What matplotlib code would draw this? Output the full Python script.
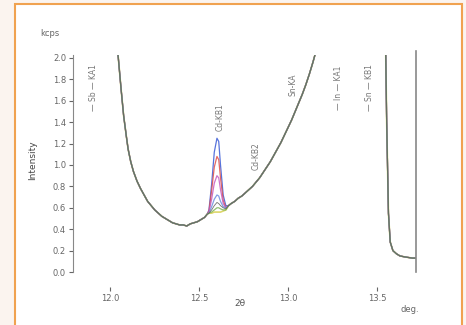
import matplotlib
matplotlib.use("Agg")
import matplotlib.pyplot as plt
from matplotlib.patches import Rectangle

# 2theta (deg) and shared background intensity (kcps)
two_theta_left = [12.03, 12.045, 12.06, 12.075, 12.09, 12.10, 12.115, 12.13, 12.15, 12.17,
                  12.19, 12.21, 12.23, 12.25, 12.27, 12.29, 12.31, 12.33, 12.35, 12.37,
                  12.39, 12.41, 12.43, 12.45, 12.47, 12.49, 12.51, 12.53, 12.545]
bg_left = [2.25, 2.00, 1.72, 1.46, 1.27, 1.15, 1.03, 0.94, 0.85, 0.78,
           0.72, 0.66, 0.62, 0.58, 0.55, 0.52, 0.50, 0.48, 0.46, 0.45,
           0.44, 0.44, 0.43, 0.45, 0.46, 0.47, 0.49, 0.51, 0.54]

two_theta_peak = [12.555, 12.57, 12.585, 12.6, 12.61, 12.62, 12.635, 12.65]

two_theta_right = [12.665, 12.68, 12.70, 12.72, 12.74, 12.76, 12.78, 12.80, 12.82, 12.84,
                   12.86, 12.88, 12.90, 12.92, 12.94, 12.96, 12.98, 13.00, 13.02, 13.04,
                   13.06, 13.08, 13.10, 13.12, 13.14, 13.16, 13.20, 13.30, 13.45, 13.545,
                   13.555, 13.565, 13.575, 13.59, 13.61, 13.63, 13.66, 13.70, 13.72]
bg_right = [0.62, 0.64, 0.66, 0.69, 0.71, 0.74, 0.77, 0.80, 0.84, 0.88,
            0.93, 0.98, 1.03, 1.09, 1.15, 1.21, 1.28, 1.35, 1.42, 1.50,
            1.58, 1.66, 1.75, 1.85, 1.96, 2.08, 2.35, 2.9, 3.2, 2.6,
            1.40, 0.55, 0.28, 0.20, 0.17, 0.15, 0.14, 0.13, 0.13]

# peak region per sample
peak_blue = [0.58, 0.82, 1.12, 1.25, 1.22, 1.00, 0.72, 0.62]
peak_red = [0.57, 0.76, 0.98, 1.08, 1.05, 0.88, 0.67, 0.60]
peak_magenta = [0.56, 0.68, 0.83, 0.90, 0.88, 0.77, 0.64, 0.60]
peak_lightblue = [0.55, 0.61, 0.68, 0.72, 0.71, 0.66, 0.61, 0.60]
peak_gray = [0.55, 0.58, 0.62, 0.65, 0.64, 0.62, 0.60, 0.59]
peak_green = [0.55, 0.56, 0.58, 0.60, 0.60, 0.59, 0.58, 0.58]
peak_yellow = [0.55, 0.55, 0.56, 0.56, 0.56, 0.56, 0.57, 0.58]

series = [
    (peak_yellow, "#d8d050", 1.2),
    (peak_blue, "#3a5bd6", 0.9),
    (peak_red, "#e0504a", 0.9),
    (peak_magenta, "#c45bc0", 0.9),
    (peak_lightblue, "#6f8fe0", 0.9),
    (peak_green, "#7db25a", 0.9),
    (peak_gray, "#5a5a5a", 0.6),
]

line_labels = [
    (11.905, 1.72, "\u2014 Sb \u2014 KA1"),
    (12.62, 1.45, "Cd-KB1"),
    (12.82, 1.08, "Cd-KB2"),
    (13.03, 1.75, "Sn-KA"),
    (13.285, 1.72, "\u2014 In \u2014 KA1"),
    (13.46, 1.72, "\u2014 Sn \u2014 KB1"),
]

fig = plt.figure(figsize=(4.66, 3.25), dpi=100)
fig.patch.set_facecolor("#fbf4ef")

# white panel with orange frame behind everything
bg = fig.add_axes([0, 0, 1, 1], zorder=-1)
bg.set_axis_off()
bg.add_patch(Rectangle((15 / 466, -0.1), 447 / 466, 1.1 - 4 / 325,
                       transform=bg.transAxes, facecolor="white",
                       edgecolor="#f0a250", linewidth=1.5, clip_on=False))

ax = fig.add_axes([73 / 466, 1 - 272 / 325, 343 / 466, 217 / 325], zorder=1)
ax.set_facecolor("none")

x_all = two_theta_left + two_theta_peak + two_theta_right
for peak, color, lw in series:
    y_all = bg_left + peak + bg_right
    ax.plot(x_all, y_all, color=color, lw=lw, alpha=0.85)

for x, y, txt in line_labels:
    ax.text(x, y, txt, rotation=90, ha="center", va="center", fontsize=5.5, color="#777777")

ax.set_xlim(11.79, 13.72)
ax.set_ylim(0, 2.028)

ax.set_yticks([0.0, 0.2, 0.4, 0.6, 0.8, 1.0, 1.2, 1.4, 1.6, 1.8, 2.0])
ax.set_yticklabels(["0.0", "0.2", "0.4", "0.6", "0.8", "1.0", "1.2", "1.4", "1.6", "1.8", "2.0"])
ax.set_xticks([12.0, 12.5, 13.0, 13.5])
ax.set_xticklabels(["12.0", "12.5", "13.0", "13.5"])

ax.spines["top"].set_visible(False)
ax.spines["bottom"].set_position(("outward", 11))
ax.spines["bottom"].set_visible(False)
ax.spines["left"].set_color("#888888")
ax.spines["right"].set_color("#888888")
ax.spines["right"].set_linewidth(1.2)
ax.spines["right"].set_bounds(0, 2.07)
ax.tick_params(axis="both", labelsize=6, colors="#666666", length=3, width=0.8)
ax.tick_params(axis="y", pad=2)
ax.tick_params(axis="x", pad=2)

fig.text(50 / 466, 1 - 33 / 325, "kcps", fontsize=6, color="#666666", ha="center", va="center")
fig.text(33 / 466, 1 - 160 / 325, "Intensity", fontsize=6.5, color="#444444",
         rotation=90, ha="center", va="center")
fig.text(240 / 466, 1 - 304 / 325, "2\u03b8", fontsize=6.5, color="#555555", ha="center", va="center")
fig.text(410 / 466, 1 - 310 / 325, "deg.", fontsize=6, color="#666666", ha="center", va="center")

fig.savefig("out.png", dpi=100, facecolor=fig.get_facecolor())
